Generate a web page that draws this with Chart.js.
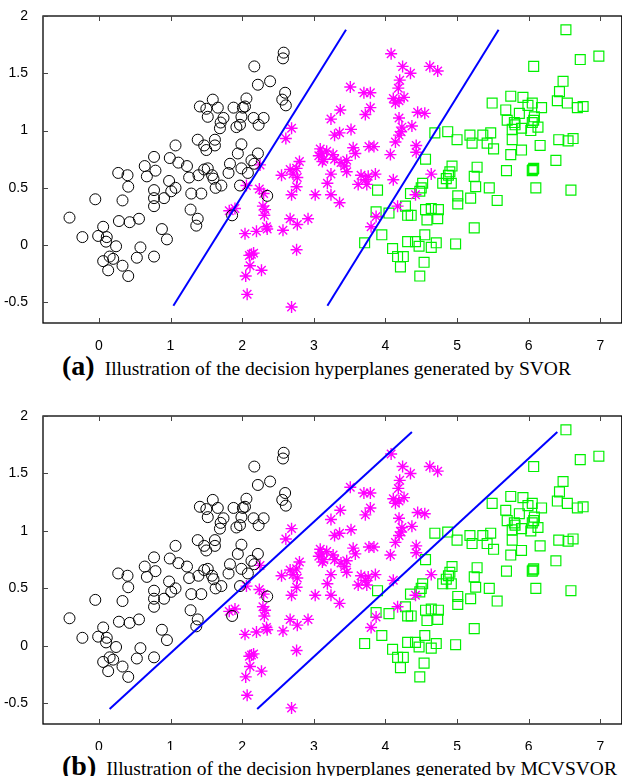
<!DOCTYPE html>
<html>
<head>
<meta charset="utf-8">
<script src="https://cdn.jsdelivr.net/npm/chart.js@4"></script>
<style>
  html, body { margin: 0; padding: 0; background: #fff; }
  body { width: 622px; height: 776px; overflow: hidden; position: relative; }
  .panel { position: absolute; left: 0; width: 630px; height: 350px; }
  .caption { position: absolute; left: 62px; white-space: nowrap; font-family: 'Liberation Serif', 'Times New Roman', serif; font-size: 19.5px; color: #000; line-height: 1; }
  .caption b { font-size: 28px; margin-right: 10px; }
</style>
</head>
<body>
<div class="panel" style="top:0"><canvas id="chartA" width="630" height="350"></canvas></div>
<div class="caption" style="top:352px"><b>(a)</b>Illustration of the decision hyperplanes generated by SVOR</div>
<div class="panel" style="top:400px"><canvas id="chartB" width="630" height="350"></canvas></div>
<div class="caption" style="top:752px"><b>(b)</b>Illustration of the decision hyperplanes generated by MCVSVOR</div>
<script>
// same three ordinal classes in both panels, only the hyperplanes change
const xTicks = [0, 1, 2, 3, 4, 5, 6, 7];
const yTicks = [-0.5, 0, 0.5, 1, 1.5, 2];

const class1 = [[-0.41,0.24],[-0.23,0.07],[-0.05,0.40],[-0.01,0.08],[0.06,0.16],[0.11,0.07],[0.10,0.03],[0.06,-0.14],[0.15,-0.10],[0.20,-0.12],[0.13,-0.22],[0.24,-0.01],[0.27,0.63],[0.28,0.21],[0.33,0.39],[0.33,-0.18],[0.40,0.61],[0.41,0.51],[0.43,0.20],[0.41,-0.27],[0.53,-0.11],[0.56,0.23],[0.58,-0.02],[0.64,0.69],[0.67,0.60],[0.77,0.77],[0.79,0.65],[0.77,0.48],[0.77,0.41],[0.77,0.34],[0.77,-0.10],[0.88,0.14],[0.91,0.41],[0.95,0.05],[0.98,0.56],[0.99,0.76],[1.01,0.47],[1.07,0.87],[1.07,0.50],[1.11,0.72],[1.23,0.69],[1.26,0.59],[1.28,0.31],[1.29,0.45],[1.38,0.23],[1.36,0.17],[1.38,0.92],[1.39,0.61],[1.43,0.45],[1.41,1.21],[1.47,0.87],[1.50,0.83],[1.50,1.19],[1.52,1.12],[1.47,0.66],[1.52,0.67],[1.58,0.61],[1.59,1.27],[1.60,0.58],[1.62,0.92],[1.62,0.87],[1.63,0.50],[1.66,1.20],[1.69,1.02],[1.70,1.07],[1.71,0.52],[1.74,1.11],[1.81,0.63],[1.83,0.71],[1.86,0.26],[1.88,1.20],[1.92,1.03],[1.94,0.80],[1.97,1.05],[1.97,0.52],[1.99,0.88],[1.99,1.12],[1.99,0.67],[2.01,1.20],[2.04,1.21],[2.06,1.28],[2.08,0.63],[2.13,0.74],[2.16,1.11],[2.17,1.56],[2.17,0.71],[2.22,1.40],[2.23,1.05],[2.22,0.80],[2.30,1.11],[2.35,0.43],[2.39,1.43],[2.56,1.27],[2.57,1.63],[2.58,1.68],[2.60,1.33],[2.61,1.22]];

const class2 = [[1.82,0.30],[1.90,0.32],[2.04,0.10],[2.06,0.52],[2.10,-0.09],[2.13,-0.08],[2.16,-0.07],[2.11,-0.18],[2.05,-0.27],[2.07,-0.43],[2.20,0.12],[2.25,0.70],[2.24,0.49],[2.27,-0.22],[2.30,0.45],[2.29,0.34],[2.32,0.31],[2.31,0.26],[2.34,0.16],[2.35,0.14],[2.55,0.61],[2.57,0.13],[2.61,0.93],[2.69,1.02],[2.67,0.66],[2.71,0.62],[2.76,0.67],[2.77,0.59],[2.80,0.73],[2.76,0.51],[2.69,0.44],[2.67,0.23],[2.77,0.18],[2.76,-0.04],[2.69,-0.54],[2.92,0.23],[3.02,0.44],[3.07,0.78],[3.09,0.84],[3.11,0.80],[3.18,0.82],[3.14,0.75],[3.27,0.79],[3.29,0.75],[3.12,0.73],[3.38,0.72],[3.46,0.74],[3.43,0.69],[3.24,0.62],[3.19,0.54],[3.24,0.44],[3.36,0.37],[3.46,0.64],[3.24,1.10],[3.37,1.18],[3.29,0.96],[3.36,0.98],[3.51,1.38],[3.52,1.01],[3.55,0.85],[3.58,0.80],[3.62,0.53],[3.66,0.61],[3.72,0.57],[3.74,0.53],[3.76,0.60],[3.86,0.62],[3.72,1.14],[3.70,1.33],[3.79,1.33],[3.79,1.20],[3.77,0.86],[3.84,0.86],[3.87,0.25],[3.80,0.16],[4.08,1.67],[4.24,1.56],[4.35,1.50],[4.62,1.56],[4.73,1.52],[4.20,1.44],[4.18,1.37],[4.11,1.28],[4.14,1.24],[4.26,1.29],[4.19,1.26],[4.19,1.11],[4.45,1.16],[4.55,1.15],[4.37,1.04],[4.23,1.03],[4.22,0.99],[4.19,0.96],[4.14,0.90],[4.43,0.87],[4.43,0.81],[4.07,0.79],[4.11,0.57],[4.64,0.62],[4.42,0.44],[4.17,0.34]];

const class3 = [[6.52,1.88],[6.98,1.65],[6.72,1.62],[6.07,1.56],[6.48,1.43],[6.43,1.34],[6.40,1.26],[6.54,1.24],[6.68,1.20],[6.76,1.21],[5.75,1.30],[5.92,1.29],[5.49,1.24],[5.68,1.18],[5.87,1.15],[5.99,1.22],[6.05,1.24],[6.18,1.20],[5.70,1.09],[5.81,1.05],[5.80,1.07],[5.77,1.01],[6.08,1.12],[6.07,1.09],[6.05,1.07],[6.13,1.03],[6.03,1.00],[5.90,1.02],[5.77,0.92],[5.90,0.83],[6.16,0.87],[6.42,0.92],[6.55,0.91],[6.62,0.93],[5.75,0.79],[6.38,0.74],[5.69,0.65],[6.06,0.66],[6.07,0.67],[6.05,0.65],[6.10,0.50],[6.59,0.48],[4.69,0.98],[4.87,0.99],[5.00,0.92],[5.18,0.96],[5.21,0.89],[5.36,0.96],[5.47,0.98],[5.42,0.89],[5.51,0.84],[4.56,0.75],[4.93,0.69],[4.90,0.64],[4.88,0.61],[4.85,0.58],[4.80,0.54],[4.92,0.54],[5.28,0.68],[5.24,0.60],[5.26,0.51],[5.45,0.50],[5.56,0.39],[5.19,0.41],[5.01,0.43],[5.01,0.36],[4.52,0.54],[4.50,0.50],[4.48,0.47],[4.35,0.45],[3.89,0.48],[3.87,0.29],[4.05,0.28],[4.28,0.34],[4.31,0.26],[4.36,0.26],[4.56,0.31],[4.64,0.32],[4.74,0.31],[4.73,0.23],[4.58,0.22],[3.95,0.09],[3.71,0.02],[4.10,-0.03],[4.17,-0.10],[4.25,-0.10],[4.21,-0.19],[4.31,0.03],[4.42,0.03],[4.47,-0.01],[4.55,0.09],[4.64,-0.02],[4.71,0.02],[4.98,0.01],[5.24,0.15],[4.54,-0.15],[4.48,-0.27]];

// hyperplane end points, [x, y]
const svorLines = [[[1.04,-0.53],[3.45,1.88]], [[3.19,-0.53],[5.58,1.88]]];
const mcvsvorLines = [[[0.15,-0.55],[4.37,1.86]], [[2.21,-0.55],[6.40,1.86]]];

const toXY = arr => arr.map(p => ({ x: p[0], y: p[1] }));

Chart.defaults.font.family = "'Liberation Sans', Arial, sans-serif";
Chart.defaults.font.size = 14;
Chart.defaults.color = '#000';

// matlab style box with inward ticks
const boxPlugin = {
  id: 'matlabBox',
  afterDraw(chart) {
    const { ctx, chartArea: a, scales } = chart;
    ctx.save();
    ctx.strokeStyle = '#000';
    ctx.lineWidth = 1.3;
    ctx.strokeRect(a.left, a.top, a.right - a.left, a.bottom - a.top);
    ctx.lineWidth = 1;
    ctx.strokeStyle = '#444';
    ctx.beginPath();
    xTicks.forEach(v => {
      const px = Math.round(scales.x.getPixelForValue(v)) + 0.5;
      ctx.moveTo(px, a.top); ctx.lineTo(px, a.top + 5);
      ctx.moveTo(px, a.bottom); ctx.lineTo(px, a.bottom - 5);
    });
    yTicks.forEach(v => {
      const py = Math.round(scales.y.getPixelForValue(v)) + 0.5;
      ctx.moveTo(a.left, py); ctx.lineTo(a.left + 5, py);
    });
    ctx.stroke();
    ctx.restore();
  }
};

function makeChart(id, lines, xHeight) {
  const lineSets = lines.map(l => ({
    type: 'line',
    data: toXY(l),
    borderColor: '#0000ff',
    borderWidth: 2,
    pointRadius: 0,
    fill: false,
    tension: 0
  }));
  return new Chart(document.getElementById(id), {
    type: 'scatter',
    data: {
      datasets: [
        ...lineSets,
        { data: toXY(class1), pointStyle: 'circle', pointRadius: 5.5, borderColor: '#000', backgroundColor: 'rgba(0,0,0,0)', borderWidth: 1 },
        { data: toXY(class2), pointStyle: 'star', pointRadius: 6, borderColor: '#ff00ff', backgroundColor: '#ff00ff', borderWidth: 1.4 },
        { data: toXY(class3), pointStyle: 'rect', pointRadius: 7, borderColor: '#00f000', backgroundColor: 'rgba(0,0,0,0)', borderWidth: 1.2 }
      ]
    },
    options: {
      responsive: false,
      animation: false,
      layout: { padding: { top: 16 } },
      plugins: { legend: { display: false }, tooltip: { enabled: false } },
      scales: {
        x: {
          type: 'linear',
          min: -0.78, max: 7.3,
          grid: { display: false },
          border: { display: false },
          ticks: { padding: 7, callback: v => String(v) },
          afterBuildTicks: s => { s.ticks = xTicks.map(v => ({ value: v })); },
          afterFit: s => { s.height = xHeight; }
        },
        y: {
          type: 'linear',
          min: -0.68, max: 2,
          grid: { display: false },
          border: { display: false },
          ticks: { padding: 7, callback: v => String(v) },
          afterBuildTicks: s => { s.ticks = yTicks.map(v => ({ value: v })); },
          afterFit: s => { s.width = 43; }
        }
      }
    },
    plugins: [boxPlugin]
  });
}

makeChart('chartA', svorLines, 27);
makeChart('chartB', mcvsvorLines, 26);
</script>
</body>
</html>
